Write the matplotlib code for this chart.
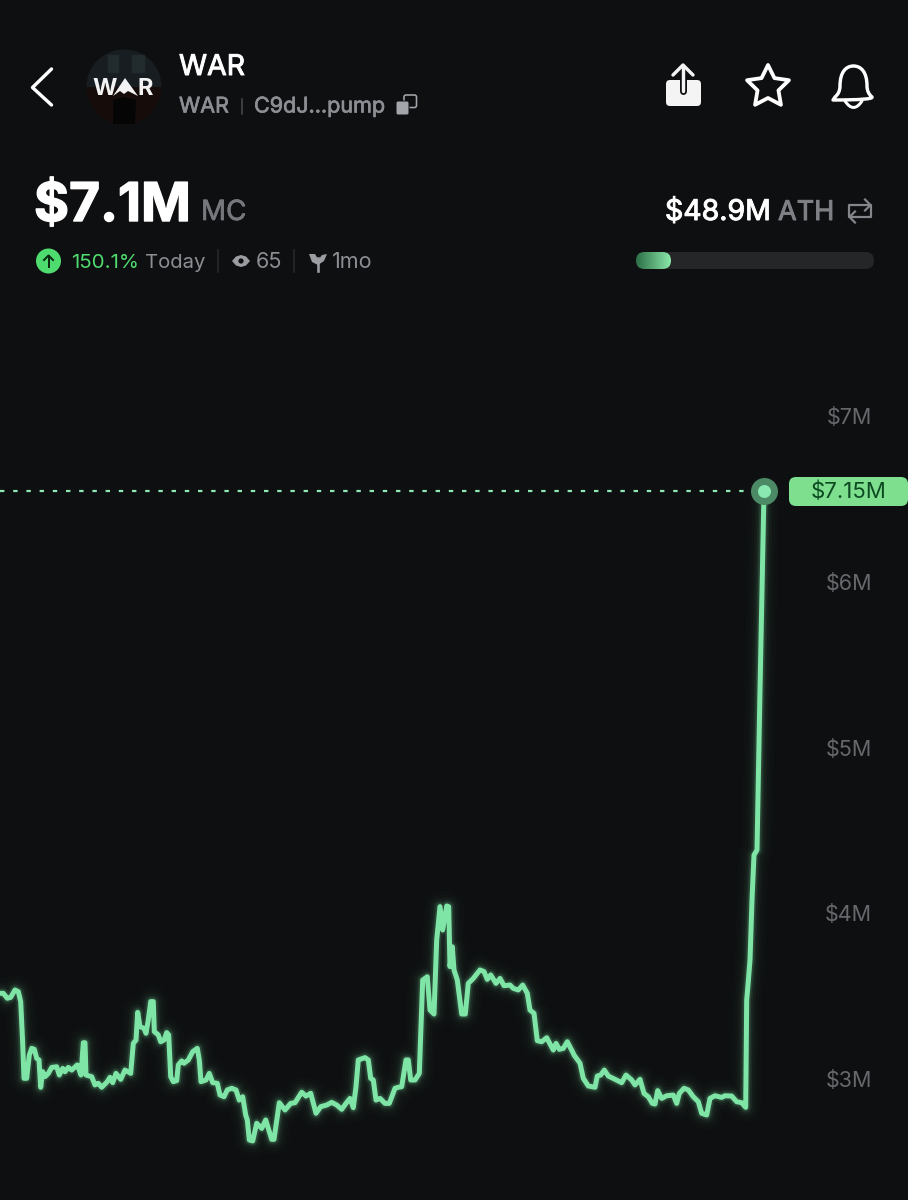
"""
WAR token screen: market cap line with the app header around it
"""

import numpy as np
import matplotlib
matplotlib.use("Agg")
import matplotlib.pyplot as plt
import matplotlib.patheffects as pe
from matplotlib.patches import Circle, FancyBboxPatch, Polygon, PathPatch
from matplotlib.path import Path

BG = "#0e0f11"
LINE = "#7fe5a6"
GREEN = "#4fdc6e"
GRAY = "#8d8e93"
FONT = "Inter"

# sample position along the time axis
sample_x = [0, 3.3, 7.3, 10.7, 15, 18.3, 20.7, 22.7, 24, 26.7, 29.3, 31.7, 34.3, 36.7, 39, 40.7, 42.7, 45, 48.3, 51.7,
            56.7, 59.3, 62.7, 65, 68.3, 71.7, 77.3, 81, 83.3, 85, 86, 91.7, 95, 98.3, 101.7, 107.3, 110, 112.7, 116, 120.7,
            125, 130.7, 133.3, 136, 137.7, 140, 144, 146, 148.3, 150.7, 153.3, 154.3, 158.3, 160.7, 164, 166.7, 168.7, 170.7, 173.3, 176.7,
            178.3, 181.7, 184, 188.3, 192.7, 197.3, 199.3, 201, 206, 209.3, 212.7, 217.3, 220, 224, 227.3, 231.7, 236, 239.3, 242.7, 245.7,
            247.3, 249.3, 252.7, 256.7, 261.7, 265.7, 271.7, 274, 279.3, 285, 290.7, 295, 300,
            301.7, 306, 310.7, 316, 320.7, 326.7, 331.7, 336.7, 341.7, 346, 350, 353.3, 356, 358.3, 365, 368.3, 370.7, 373.3, 376, 380, 385,
            389.3, 395, 398.3, 401.7, 406, 408.3, 410.7, 415, 419.3, 422.7, 427.3, 430, 434, 436.7, 440, 442.7, 446.7, 448.7, 450, 452.3,
            454, 457.3, 461.7, 465.3, 468.3, 473.3, 480, 484, 487.3, 490.7, 496, 500, 504, 510, 513.3, 518.3, 522.7, 527.3, 530, 534,
            537.3, 541.7, 546.7, 553.3, 556, 559.3, 563.3, 567.3, 573.3,
            574, 580, 583.3, 588.3, 595, 597.3, 600.7, 604.3, 608.3, 615, 621.7, 626, 631.7, 635, 640, 644, 648.3, 652.3, 655, 657.7,
            661.7, 666.7, 673.3, 676.7, 679.3, 684, 688.3, 693.3, 698.3, 701.7, 706.7, 710, 715, 721.7, 725, 731.7, 736.7, 741.7, 745.7,
            746.7, 748, 750, 752, 754, 757, 760, 764]

# market cap in $M, read against the axis labels
mcap = [3.517, 3.517, 3.487, 3.493, 3.537, 3.527, 3.467, 3.215, 3.004, 3.004, 3.145, 3.185, 3.179, 3.125, 3.115, 2.950, 3.044, 3.014, 3.034, 3.070,
        3.074, 3.024, 3.064, 3.044, 3.070, 3.054, 3.085, 3.024, 3.219, 3.219, 3.024, 3.014, 2.964, 2.974, 2.950, 2.984, 3.010, 2.978, 3.034, 2.998,
        3.054, 3.034, 3.215, 3.235, 3.402, 3.316, 3.306, 3.276, 3.356, 3.467, 3.467, 3.286, 3.266, 3.225, 3.235, 3.280, 3.266, 3.014, 2.984, 2.990,
        3.085, 3.109, 3.095, 3.115, 3.165, 3.185, 3.115, 2.984, 2.994, 3.034, 2.978, 2.974, 2.904, 2.893, 2.934, 2.944, 2.934, 2.873, 2.893, 2.783,
        2.753, 2.632, 2.626, 2.733, 2.702, 2.753, 2.636, 2.636, 2.857, 2.813, 2.853, 2.857, 2.904,
        2.920, 2.897, 2.914, 2.793, 2.833, 2.843, 2.859, 2.843, 2.817, 2.853, 2.883, 2.827, 2.954, 3.115, 3.129, 3.115, 3.004, 2.994, 2.873, 2.883, 2.853,
        2.853, 2.944, 2.950, 2.954, 3.115, 3.115, 2.994, 2.994, 3.034, 3.597, 3.617, 3.416, 3.392, 3.839, 4.040, 3.899, 4.044, 4.040, 3.678, 3.798,
        3.658, 3.597, 3.392, 3.392, 3.577, 3.607, 3.658, 3.648, 3.601, 3.628, 3.577, 3.607, 3.563, 3.567, 3.547, 3.537, 3.567, 3.517, 3.416, 3.396,
        3.231, 3.225, 3.249, 3.175, 3.215, 3.179, 3.185, 3.225, 3.155,
        3.145, 3.095, 3.004, 2.958, 2.950, 3.018, 3.024, 3.054, 3.018, 2.998, 2.978, 3.024, 2.994, 2.964, 2.998, 2.913, 2.893, 2.853, 2.849, 2.930,
        2.883, 2.899, 2.903, 2.853, 2.913, 2.944, 2.934, 2.893, 2.863, 2.793, 2.783, 2.883, 2.899, 2.889, 2.899, 2.897, 2.863, 2.857, 2.829,
        3.477, 3.567, 3.718, 4.080, 4.351, 4.382, 5.347, 6.548]

tick_values = [3, 4, 5, 6, 7]
tick_labels = ["$3M", "$4M", "$5M", "$6M", "$7M"]
price_label = "$7.15M"

W, H = 908, 1200
fig = plt.figure(figsize=(W / 100, H / 100), dpi=100, facecolor=BG)


def px(v):
    # pixels to points
    return v * 0.72


# chart, spans the whole screen
ax = fig.add_axes([0, 0, 1, 1], facecolor=BG)
ax.set_xlim(0, W)
ax.set_ylim(2.27, 9.51)
for s in ax.spines.values():
    s.set_visible(False)
ax.set_xticks([])
ax.yaxis.tick_right()
ax.set_yticks(tick_values)
ax.set_yticklabels(tick_labels, fontfamily=FONT, fontsize=15.5, color="#67686c")
ax.tick_params(axis="y", length=0, pad=-px(36))
for lab in ax.get_yticklabels():
    lab.set_ha("right")

# glow under the line
for width, alpha in [(30, 0.014), (23, 0.02), (17, 0.035), (12, 0.07), (8.5, 0.14)]:
    ax.plot(sample_x, mcap, color=LINE, lw=px(width), alpha=alpha, solid_joinstyle="round", solid_capstyle="round")
ax.plot(sample_x, mcap, color=LINE, lw=px(5), solid_joinstyle="round", solid_capstyle="round")

# last price
ax.plot([0, sample_x[-1]], [mcap[-1], mcap[-1]], color="#8fe8b4", lw=px(2.2), dashes=(2, 4), zorder=2)
ax.plot(sample_x[-1], mcap[-1], "o", color="#4c8a66", ms=px(27), mew=0, zorder=3)
ax.plot(sample_x[-1], mcap[-1], "o", color="#8ae9b0", ms=px(13), mew=0, zorder=4)

# header and pill, in pixel coordinates
ui = fig.add_axes([0, 0, 1, 1], facecolor="none")
ui.set_xlim(0, W)
ui.set_ylim(H, 0)
ui.axis("off")


def label(x, y, s, size, color="white", weight="normal", thick=0):
    t = ui.text(x, y, s, fontsize=size, color=color, fontweight=weight, ha="left", va="baseline", fontfamily=FONT)
    if thick:
        # the app font is heavier than what is installed
        t.set_path_effects([pe.withStroke(linewidth=thick, foreground=color)])


# price pill
ui.add_patch(FancyBboxPatch((789, 477), 119, 29, boxstyle="round,pad=0,rounding_size=7", fc="#7ee08f", ec="none"))
ui.text(849, 498.5, price_label, fontsize=16, color="#0d4a22", ha="center", va="baseline", fontfamily=FONT)

# back chevron
ui.plot([51.5, 32.5, 51.5], [69, 87.5, 105], color="white", lw=px(3.4), solid_capstyle="round", solid_joinstyle="round")

# avatar
avatar = Circle((124, 87), 37.5, fc="#171b1d", ec="none")
ui.add_patch(avatar)
bottom = ui.imshow(np.array([[0.0], [1.0]]), extent=(86, 162, 125, 50), aspect="auto",
                   cmap=matplotlib.colors.LinearSegmentedColormap.from_list("av", ["#171d20", "#111214", "#160c0a"]),
                   zorder=2)
bottom.set_clip_path(avatar)
ui.set_xlim(0, W)
ui.set_ylim(H, 0)
for xs, ys in [([108, 118, 118, 108], [55, 55, 72, 72]), ([132, 144, 144, 132], [55, 55, 72, 72])]:
    ui.fill(xs, ys, color="#222b2e", zorder=3)
ui.add_patch(Polygon([[113, 100], [124, 97], [136, 100], [135, 124], [113, 124]], fc="#060505", ec="none", zorder=3))
ui.text(105, 95, "W", fontsize=17, fontweight="bold", color="#f3f3f3", ha="center", va="baseline", fontfamily=FONT, zorder=5)
ui.text(145, 95, "R", fontsize=17, fontweight="bold", color="#f3f3f3", ha="center", va="baseline", fontfamily=FONT, zorder=5)
ui.add_patch(Polygon([[113, 96], [125, 78], [138, 96], [128, 91], [124, 94], [120, 91]], fc="#f3f3f3", ec="none", zorder=5))

label(179, 75, "WAR", 20.5, thick=0.7)
label(179, 112.5, "WAR", 15.5, color=GRAY, thick=0.5)
ui.plot([242, 242], [99, 114], color="#4a4b4f", lw=px(1.5))
label(254, 112.5, "C9dJ...pump", 15.5, color=GRAY, thick=0.5)

# copy icon
ui.add_patch(FancyBboxPatch((404, 95), 12.5, 12.5, boxstyle="round,pad=0,rounding_size=2", fc="none", ec="#a4a5aa", lw=px(1.6)))
ui.add_patch(FancyBboxPatch((396, 101), 13, 14, boxstyle="round,pad=0,rounding_size=2", fc="#a4a5aa", ec=BG, lw=px(1)))

# market cap
label(34, 221, "$7.1M", 38.5, weight="bold", thick=1.0)
label(201, 220, "MC", 20, color="#77787d", thick=0.5)

# change row
ui.add_patch(Circle((48.5, 261), 12.5, fc=GREEN, ec="none"))
ui.plot([48.5, 48.5], [267, 255.5], color="#0b2a14", lw=px(2))
ui.plot([44, 48.5, 53], [260, 255.5, 260], color="#0b2a14", lw=px(2))
label(71, 268.5, "150.1%", 14.8, color=GREEN)
label(145, 268.5, "Today", 14.6, color=GRAY)
ui.plot([218, 218], [250, 272], color="#2b2c2f", lw=px(1.5))
ui.add_patch(Polygon([[232, 261], [236, 256.5], [241, 255], [246, 256.5], [250, 261], [246, 265.5], [241, 267], [236, 265.5]], fc="#9c9da2", ec="none"))
ui.add_patch(Circle((241, 261), 2.6, fc=BG, ec="none"))
label(256, 268.5, "65", 15.5, color=GRAY)
ui.plot([294, 294], [250, 272], color="#2b2c2f", lw=px(1.5))
ui.plot([318, 318], [258, 271], color="#9c9da2", lw=px(2.6))
ui.add_patch(Polygon([[309, 254], [315, 254], [318, 259], [318, 265], [312, 262]], fc="#9c9da2", ec="none"))
ui.add_patch(Polygon([[327, 254], [322, 255], [318, 260], [318, 265], [324, 261]], fc="#9c9da2", ec="none"))
label(332, 268.5, "1mo", 15.5, color=GRAY)

# share icon
ui.add_patch(FancyBboxPatch((666, 80), 35, 26, boxstyle="round,pad=0,rounding_size=4", fc="#f4f4f4", ec="none"))
ui.plot([683, 683], [66, 91], color=BG, lw=px(7), solid_capstyle="round")
ui.plot([683, 683], [66, 91], color="#f4f4f4", lw=px(3.4), solid_capstyle="round")
ui.plot([673, 683, 693], [75, 65, 75], color="#f4f4f4", lw=px(3.4), solid_capstyle="round", solid_joinstyle="round")

# star icon
star_a = np.linspace(-np.pi / 2, 1.5 * np.pi, 11)[:-1]
star_r = np.array([22, 11] * 5)
ui.add_patch(Polygon(np.c_[768 + star_r * np.cos(star_a), 87 + star_r * np.sin(star_a)], fc="none", ec="white", lw=px(3.8), joinstyle="round"))

# bell icon
bell = Path([(835, 97), (840, 93), (840, 86), (840, 86), (840, 72), (846, 66), (853.5, 66), (861, 66), (867, 72), (867, 86),
             (867, 93), (872, 97), (872, 97), (874, 100), (833, 100), (835, 97)],
            [Path.MOVETO, Path.CURVE3, Path.CURVE3, Path.LINETO, Path.CURVE4, Path.CURVE4, Path.CURVE4, Path.CURVE4, Path.CURVE4, Path.CURVE4,
             Path.CURVE3, Path.CURVE3, Path.LINETO, Path.CURVE3, Path.CURVE3, Path.CLOSEPOLY])
ui.add_patch(PathPatch(bell, fc="none", ec="white", lw=px(3.4), joinstyle="round"))
ui.add_patch(PathPatch(Path([(845, 101), (853.5, 114), (862, 101)], [Path.MOVETO, Path.CURVE3, Path.CURVE3]), fc="none", ec="white", lw=px(3), capstyle="round"))

# ATH
label(665, 220, "$48.9M", 20.5, thick=0.7)
label(778, 220, "ATH", 19.5, color="#7f8085", thick=0.7)
ui.plot([871, 871, 849, 849], [210, 205, 205, 210], color="#85868b", lw=px(2.2))
ui.plot([865, 870.5, 865], [199.5, 205, 210.5], color="#85868b", lw=px(2.2))
ui.plot([849, 849, 871, 871], [212, 217, 217, 212], color="#85868b", lw=px(2.2))
ui.plot([855, 849.5, 855], [211.5, 217, 222.5], color="#85868b", lw=px(2.2))

# ATH progress bar
ui.add_patch(FancyBboxPatch((636, 252), 238, 17, boxstyle="round,pad=0,rounding_size=8.5", fc="#252628", ec="none"))
bar_clip = FancyBboxPatch((636, 252), 35, 17, boxstyle="round,pad=0,rounding_size=8.5", fc="none", ec="none")
ui.add_patch(bar_clip)
bar = ui.imshow(np.linspace(0, 1, 50).reshape(1, -1), extent=(636, 671, 269, 252), aspect="auto",
                cmap=matplotlib.colors.LinearSegmentedColormap.from_list("bar", ["#2c6f47", "#8be8a9"]), zorder=2)
bar.set_clip_path(bar_clip)
ui.set_xlim(0, W)
ui.set_ylim(H, 0)

fig.savefig("out.png", dpi=100, facecolor=BG)
